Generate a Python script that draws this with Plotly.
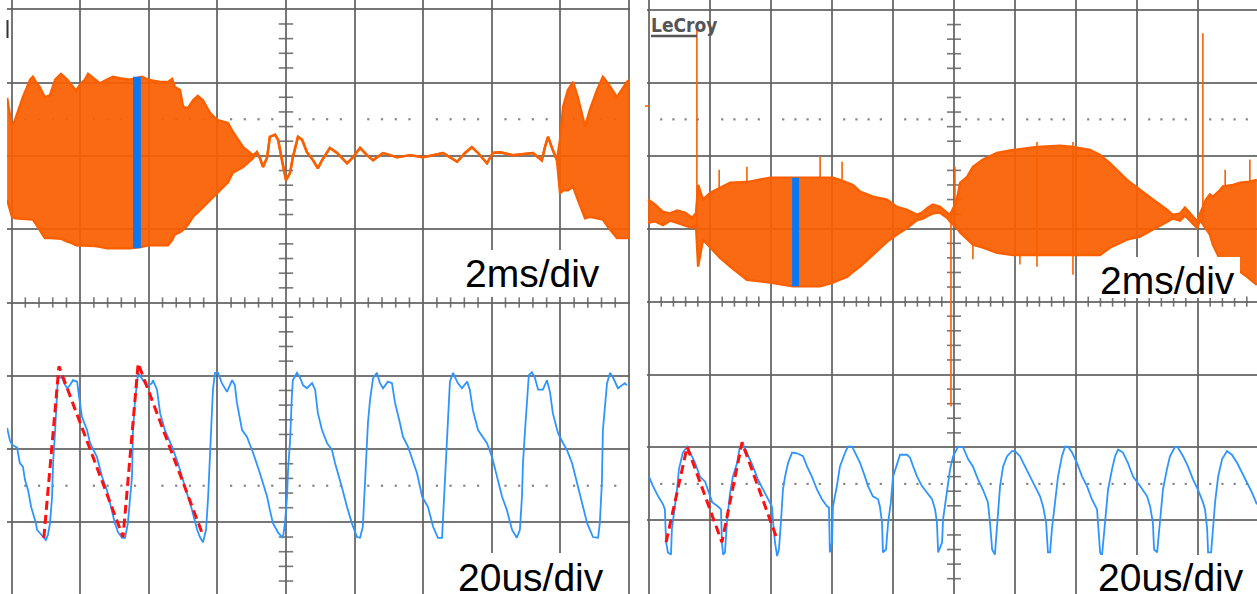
import plotly.graph_objects as go

# ---------------- LEFT SCREEN ----------------
# top trace (2 ms/div), amplitude in divisions: burst envelope, quiet part, second burst
lt_burst1_t = [-8.13,-7.99,-7.90,-7.67,-7.46,-7.38,-7.29,-7.17,-7.03,-6.88,-6.73,-6.56,-6.38,-6.24,-6.12,-6.01,
               -5.86,-5.77,-5.57,-5.42,-5.22,-5.04,-4.84,-4.55,-4.20,-4.02,-3.67,-3.44,-3.32,-3.24,-3.09,-3.00,
               -2.86,-2.71,-2.57,-2.42,-2.22,-2.01,-1.69,-1.55,-1.25,-0.96]
lt_burst1_hi = [2.79,2.40,2.49,2.80,3.04,3.08,3.01,2.93,2.80,2.83,3.04,3.12,3.04,2.95,2.89,2.97,
                3.04,3.12,3.04,2.99,3.04,3.08,3.06,3.04,3.08,3.04,3.01,3.01,3.05,2.94,2.90,2.67,
                2.65,2.76,2.82,2.76,2.59,2.49,2.45,2.33,2.12,2.01]
lt_burst1_lo = [1.40,1.17,1.15,1.14,1.13,1.13,1.07,0.99,0.88,0.88,0.88,0.87,0.83,0.81,0.78,0.78,
                0.78,0.78,0.77,0.76,0.74,0.74,0.74,0.74,0.76,0.78,0.78,0.78,0.85,0.93,0.96,0.99,
                1.06,1.17,1.23,1.30,1.40,1.49,1.64,1.77,1.85,1.97]
lt_quiet_t = [-0.85,-0.76,-0.67,-0.55,-0.47,-0.32,-0.23,-0.12,0.00,0.12,0.20,0.35,0.47,0.61,0.79,0.93,
              1.05,1.28,1.49,1.78,1.95,2.16,2.36,2.54,2.83,3.24,3.62,3.99,4.58,4.99,5.22,5.42,
              5.60,5.86,6.03,6.24,6.62,7.20,7.46,7.55,7.64,7.78,7.90]
lt_quiet_v = [2.05,1.97,1.85,1.98,2.26,2.29,2.22,1.94,1.67,1.77,1.98,2.26,2.22,2.05,1.94,1.83,
              1.94,2.11,2.04,1.90,1.98,2.11,2.01,1.94,2.04,1.98,2.01,1.98,2.04,1.92,2.04,2.12,
              2.04,1.90,2.04,2.05,2.01,2.04,1.94,2.12,2.26,2.08,1.94]
lt_burst2_t = [7.99,8.08,8.22,8.37,8.51,8.72,8.86,9.07,9.24,9.39,9.65,9.94,10.03]
lt_burst2_hi = [2.22,2.67,2.90,3.01,2.80,2.40,2.63,2.90,3.08,2.99,2.80,3.01,3.04]
lt_burst2_lo = [1.49,1.53,1.53,1.58,1.40,1.15,1.17,1.15,1.13,1.03,0.88,0.88,0.88]
lt_zoom_mark_t = [-4.46, -4.23]
lt_zoom_mark_v = [0.74, 3.08]

# bottom trace (20 us/div)
lb_t = [-81.3,-80.5,-79.9,-78.4,-77.6,-76.7,-76.1,-75.2,-74.3,-73.8,-72.9,-72.6,-70.8,-70.0,-69.4,-68.8,
        -68.2,-67.9,-67.3,-66.8,-66.5,-65.3,-64.7,-63.8,-63.0,-62.1,-60.9,-60.3,-59.5,-58.0,-57.1,-55.1,
        -53.6,-52.2,-50.7,-49.9,-49.0,-47.8,-46.9,-46.1,-44.9,-44.6,-44.0,-43.4,-43.1,-41.7,-40.5,-39.1,
        -38.8,-37.6,-36.7,-35.3,-33.2,-31.5,-30.0,-28.9,-27.4,-25.9,-25.1,-24.2,-23.3,-22.7,-22.2,-21.6,
        -21.3,-20.7,-19.8,-18.7,-17.2,-15.7,-14.9,-14.3,-12.8,-11.4,-9.6,-7.6,-5.5,-4.7,-3.8,-2.3,
        -0.9,-0.3,0.3,0.6,1.2,1.7,2.0,3.2,4.1,5.0,6.1,7.6,8.5,9.3,10.5,12.0,
        13.4,14.3,15.2,16.3,17.8,19.2,20.7,21.6,22.4,23.6,23.9,24.5,25.4,26.5,27.4,28.3,
        29.7,30.9,31.8,33.2,34.1,35.6,37.0,38.2,39.7,41.4,42.9,44.3,45.5,45.8,46.4,46.9,
        47.8,48.7,50.1,51.3,52.8,53.6,54.5,56.0,58.6,60.1,61.5,63.0,64.4,65.9,67.3,68.2,
        68.8,69.1,69.7,70.3,70.8,71.7,72.6,73.5,74.9,76.1,77.0,77.8,79.3,80.8,81.9,83.4,
        84.8,86.3,87.8,89.5,91.0,91.5,92.1,92.4,93.0,93.6,94.5,95.3,96.8,98.0,98.8,99.4]
lb_v = [-1.71,-1.88,-1.94,-1.98,-2.19,-2.24,-2.42,-2.56,-2.79,-2.87,-3.01,-3.10,-3.20,-3.24,-3.17,-3.01,
        -2.65,-2.19,-1.74,-1.33,-1.03,-1.02,-1.10,-1.17,-1.13,-1.06,-1.08,-1.29,-1.56,-1.74,-1.92,-2.11,
        -2.38,-2.56,-2.83,-3.01,-3.13,-3.21,-3.21,-3.01,-2.38,-1.74,-1.33,-1.03,-0.96,-1.06,-1.15,-1.10,
        -1.06,-1.19,-1.51,-1.74,-1.97,-2.19,-2.42,-2.60,-2.83,-3.10,-3.20,-3.27,-3.10,-2.65,-2.11,-1.47,
        -1.19,-0.96,-0.96,-1.10,-1.22,-1.06,-1.13,-1.37,-1.74,-1.83,-2.05,-2.33,-2.65,-2.83,-3.01,-3.14,
        -3.21,-3.01,-2.65,-2.29,-1.88,-1.29,-1.06,-0.96,-1.03,-1.13,-1.17,-1.10,-1.19,-1.51,-1.74,-1.92,
        -2.01,-2.19,-2.33,-2.52,-2.79,-3.01,-3.20,-3.21,-3.06,-2.01,-1.64,-1.33,-1.03,-0.96,-1.10,-1.17,
        -1.08,-1.10,-1.37,-1.64,-1.83,-1.97,-2.15,-2.33,-2.65,-2.79,-3.06,-3.21,-3.21,-2.93,-2.19,-1.74,
        -1.08,-0.96,-1.10,-1.17,-1.08,-1.19,-1.47,-1.74,-1.92,-2.11,-2.38,-2.65,-2.83,-3.10,-3.21,-3.10,
        -2.65,-2.19,-1.74,-1.29,-0.99,-0.95,-1.03,-1.19,-1.19,-1.06,-1.23,-1.51,-1.78,-1.92,-2.01,-2.19,
        -2.45,-2.74,-3.01,-3.20,-3.21,-3.01,-2.46,-1.74,-1.37,-1.10,-0.96,-1.02,-1.17,-1.13,-1.10,-1.13]
lb_fit_t = [-70.6, -66.2, -47.5, -43.1, -24.5]
lb_fit_v = [-3.21, -0.87, -3.20, -0.83, -3.14]

# ---------------- RIGHT SCREEN ----------------
rt_t = [-10.03,-9.80,-9.54,-9.31,-9.08,-8.82,-8.59,-8.46,-8.39,-8.23,-8.00,-7.67,-7.34,-6.79,-6.03,-5.28,
        -4.39,-3.97,-3.74,-3.51,-3.31,-3.08,-2.66,-2.20,-1.87,-1.54,-1.21,-1.02,-0.85,-0.69,-0.46,-0.23,
        -0.13,0.03,0.13,0.20,0.43,0.62,0.95,1.41,1.93,2.72,3.48,3.90,4.46,4.79,5.11,5.67,
        6.10,6.52,6.98,7.18,7.41,7.57,7.74,7.97,8.07,8.26,8.39,8.49,8.72,8.82,9.15,9.38,
        9.61,9.93]
rt_hi = [1.40,1.33,1.23,1.21,1.25,1.22,1.15,1.21,1.60,1.40,1.49,1.56,1.63,1.64,1.70,1.70,
         1.70,1.70,1.67,1.63,1.60,1.51,1.44,1.40,1.30,1.26,1.19,1.23,1.29,1.33,1.30,1.22,
         1.19,1.33,1.47,1.63,1.71,1.85,1.95,2.04,2.08,2.12,2.14,2.12,2.08,2.01,1.90,1.67,
         1.53,1.40,1.26,1.19,1.21,1.29,1.21,1.10,1.21,1.40,1.47,1.44,1.53,1.58,1.60,1.63,
         1.64,1.67]
rt_lo = [1.08,1.10,1.05,1.11,1.08,1.04,1.01,1.05,0.48,0.85,0.75,0.60,0.48,0.30,0.26,0.21,
         0.21,0.26,0.30,0.34,0.41,0.48,0.64,0.82,0.92,1.01,1.12,1.14,1.18,1.21,1.22,1.15,
         1.10,1.04,0.99,0.95,0.85,0.78,0.74,0.67,0.64,0.64,0.64,0.64,0.64,0.64,0.74,0.85,
         0.89,0.99,1.10,1.14,1.11,1.18,1.11,1.01,1.12,0.99,0.92,0.78,0.58,0.55,0.48,0.41,
         0.34,0.23]
rt_spike_t = [-8.43,-7.70,-6.79,-4.39,-3.67,-0.10,0.03,0.62,2.16,2.72,3.90,8.16,8.89,9.70]
rt_spike_lo = [0.85,1.53,1.64,1.70,1.67,-1.44,1.04,0.58,0.51,0.48,0.37,1.12,1.58,1.63]
rt_spike_hi = [3.78,1.81,1.85,1.99,1.92,1.22,1.85,0.78,0.64,2.19,2.19,3.68,1.81,1.95]
rt_zoom_mark_t = [-5.31, -5.08]
rt_zoom_mark_v = [0.21, 1.70]

rb_t = [-100.0,-98.7,-97.0,-95.4,-94.8,-94.4,-93.8,-92.8,-92.5,-91.5,-90.8,-90.2,-88.9,-87.5,-86.6,-84.9,
        -83.3,-81.6,-80.7,-79.3,-77.4,-76.4,-76.1,-75.7,-75.1,-74.4,-73.4,-72.5,-71.1,-70.2,-69.2,-67.9,
        -65.9,-64.3,-62.6,-61.0,-59.7,-59.3,-58.7,-58.0,-57.4,-56.7,-56.1,-55.4,-54.4,-53.1,-51.5,-49.5,
        -48.2,-46.6,-44.9,-43.3,-41.6,-41.0,-40.7,-40.0,-39.7,-38.4,-37.4,-35.7,-34.8,-33.4,-32.5,-30.8,
        -29.2,-28.2,-26.6,-24.9,-24.3,-23.6,-23.3,-22.3,-21.6,-20.7,-20.0,-18.7,-17.7,-15.4,-14.4,-13.4,
        -12.1,-10.5,-8.9,-7.2,-6.2,-5.6,-5.2,-3.9,-3.6,-2.3,-1.3,-0.3,1.3,3.0,4.6,6.2,
        7.9,9.5,10.8,11.1,11.8,12.5,13.4,14.1,14.4,15.1,16.1,17.4,19.0,20.0,21.6,23.3,
        24.9,26.6,28.2,29.2,30.2,30.8,31.5,32.1,33.1,34.1,35.4,36.4,37.4,38.7,40.3,42.0,
        43.6,45.2,46.9,47.2,47.9,48.5,48.9,49.5,50.5,51.8,52.8,53.8,55.4,57.0,58.7,61.0,
        63.3,64.3,65.2,65.6,66.6,66.9,67.5,68.5,69.8,70.8,72.5,73.4,75.1,76.7,78.4,80.0,
        81.6,82.3,83.0,83.3,84.3,84.9,85.6,86.6,87.9,89.5,91.1,92.8,94.4,96.1,97.7,99.3]
rb_v = [-2.40,-2.53,-2.67,-2.78,-2.85,-3.30,-3.44,-3.47,-3.12,-2.81,-2.58,-2.30,-2.07,-1.99,-2.07,-2.21,
        -2.40,-2.47,-2.58,-2.75,-2.81,-2.85,-3.30,-3.47,-3.44,-2.99,-2.62,-2.40,-2.21,-1.99,-1.95,-2.07,
        -2.26,-2.44,-2.58,-2.71,-2.81,-3.03,-3.30,-3.49,-3.40,-2.99,-2.58,-2.40,-2.21,-2.07,-2.08,-2.12,
        -2.26,-2.40,-2.58,-2.71,-2.81,-2.82,-3.44,-3.30,-2.81,-2.53,-2.26,-2.07,-1.99,-1.99,-2.07,-2.21,
        -2.40,-2.53,-2.67,-2.71,-2.81,-3.03,-3.44,-3.40,-3.03,-2.75,-2.40,-2.21,-2.10,-2.10,-2.14,-2.26,
        -2.40,-2.53,-2.62,-2.71,-2.85,-3.03,-3.44,-3.30,-2.99,-2.62,-2.30,-2.12,-1.99,-2.00,-2.16,-2.26,
        -2.44,-2.58,-2.74,-2.75,-3.03,-3.40,-3.47,-3.12,-2.85,-2.53,-2.26,-2.12,-2.05,-2.05,-2.12,-2.26,
        -2.40,-2.53,-2.67,-2.81,-3.03,-3.44,-3.44,-3.12,-2.75,-2.40,-2.12,-1.99,-1.99,-2.07,-2.21,-2.40,
        -2.53,-2.71,-2.85,-3.03,-3.44,-3.49,-3.30,-2.95,-2.58,-2.30,-2.12,-2.03,-2.07,-2.21,-2.40,-2.53,
        -2.67,-2.81,-3.03,-3.40,-3.44,-3.30,-2.99,-2.58,-2.30,-2.12,-1.99,-2.00,-2.12,-2.26,-2.44,-2.58,
        -2.75,-2.85,-3.12,-3.44,-3.44,-3.12,-2.75,-2.40,-2.16,-2.05,-2.10,-2.21,-2.34,-2.48,-2.62,-2.78]
rb_fit_t = [-94.4, -87.5, -76.1, -69.5, -58.0]
rb_fit_v = [-3.30, -1.99, -3.30, -1.93, -3.26]

labels = ["2ms/div", "20us/div", "2ms/div", "20us/div"]

ORANGE = "#fa5f00"
ORANGE_FILL = "rgba(250,95,0,0.93)"
BLUE = "#2e95ff"
MARK = "rgba(0,120,255,0.95)"
GRID = "rgba(95,95,95,0.85)"

fig = go.Figure()


def envelope(t, hi, lo, xa, ya):
    fig.add_trace(go.Scatter(x=t, y=hi, xaxis=xa, yaxis=ya, mode="lines",
                             line=dict(color=ORANGE, width=2.4), hoverinfo="skip"))
    fig.add_trace(go.Scatter(x=t, y=lo, xaxis=xa, yaxis=ya, mode="lines", fill="tonexty",
                             fillcolor=ORANGE_FILL, line=dict(color=ORANGE, width=2.4), hoverinfo="skip"))


def bar(t, v, xa, ya):
    fig.add_trace(go.Scatter(x=[t[0], t[1], t[1], t[0], t[0]], y=[v[0], v[0], v[1], v[1], v[0]],
                             xaxis=xa, yaxis=ya, mode="lines", fill="toself", fillcolor=MARK,
                             line=dict(width=0), hoverinfo="skip"))


def axis_decor(xa, ya, t_lo, t_hi, y_lo, y_hi, x_half, y_half, t_step):
    # minor ticks along the centre cross and dotted reference lines
    xs, ys = [], []
    k = -25
    while k <= 25:
        yv = k * 0.2
        if k % 5 != 0 and y_lo < yv < y_hi:
            xs += [-x_half, x_half, None]
            ys += [yv, yv, None]
        k += 1
    k = -30
    dots_x = []
    while k <= 30:
        tv = k * t_step
        if k % 5 != 0 and t_lo < tv < t_hi:
            xs += [tv, tv, None]
            ys += [-y_half, y_half, None]
            dots_x.append(tv)
        k += 1
    fig.add_trace(go.Scatter(x=xs, y=ys, xaxis=xa, yaxis=ya, mode="lines",
                             line=dict(color=GRID, width=1.6), hoverinfo="skip"))
    for lvl in (2.5, -2.5):
        fig.add_trace(go.Scatter(x=dots_x, y=[lvl] * len(dots_x), xaxis=xa, yaxis=ya, mode="markers",
                                 marker=dict(color="rgba(120,120,120,0.9)", size=2.2, symbol="square"),
                                 hoverinfo="skip"))


# left screen
axis_decor("x", "y", -8.134, 10.03, -3.977, 4.127, 0.21, 0.07, 0.4)
envelope(lt_burst1_t + lt_quiet_t + lt_burst2_t,
         lt_burst1_hi + lt_quiet_v + lt_burst2_hi,
         lt_burst1_lo + lt_quiet_v + lt_burst2_lo, "x", "y")
bar(lt_zoom_mark_t, lt_zoom_mark_v, "x", "y")
fig.add_trace(go.Scatter(x=lb_t, y=lb_v, xaxis="x3", yaxis="y", mode="lines",
                         line=dict(color=BLUE, width=1.8), hoverinfo="skip"))
fig.add_trace(go.Scatter(x=lb_fit_t, y=lb_fit_v, xaxis="x3", yaxis="y", mode="lines",
                         line=dict(color="#ff1010", width=3, dash="9px,5px"), hoverinfo="skip"))

# right screen
axis_decor("x2", "y2", -10.066, 9.934, -4.01, 4.137, 0.23, 0.07, 0.4)
envelope(rt_t, rt_hi, rt_lo, "x2", "y2")
sx, sy = [], []
for t, a, b in zip(rt_spike_t, rt_spike_lo, rt_spike_hi):
    sx += [t, t, None]
    sy += [a, b, None]
fig.add_trace(go.Scatter(x=sx, y=sy, xaxis="x2", yaxis="y2", mode="lines",
                         line=dict(color=ORANGE, width=1.6), hoverinfo="skip"))
bar(rt_zoom_mark_t, rt_zoom_mark_v, "x2", "y2")
fig.add_trace(go.Scatter(x=rb_t, y=rb_v, xaxis="x4", yaxis="y2", mode="lines",
                         line=dict(color=BLUE, width=1.8), hoverinfo="skip"))
fig.add_trace(go.Scatter(x=rb_fit_t, y=rb_fit_v, xaxis="x4", yaxis="y2", mode="lines",
                         line=dict(color="#ff1010", width=3, dash="9px,5px"), hoverinfo="skip"))

W, H = 1257, 594
grid_axis = dict(showgrid=True, gridcolor=GRID, gridwidth=2, zeroline=False, showline=False,
                 showticklabels=False, ticks="", fixedrange=True)

fig.update_layout(
    width=W, height=H, margin=dict(l=0, r=0, t=0, b=0),
    paper_bgcolor="white", plot_bgcolor="white", showlegend=False,
    xaxis=dict(domain=[7 / W, 630 / W], range=[-8.134, 10.03], dtick=2, tick0=0, anchor="y", **grid_axis),
    yaxis=dict(domain=[0, 1], range=[-3.977, 4.127], dtick=1, tick0=0, anchor="x", **grid_axis),
    xaxis2=dict(domain=[647 / W, 1], range=[-10.066, 9.934], dtick=2, tick0=0, anchor="y2", **grid_axis),
    yaxis2=dict(domain=[0, 1], range=[-4.01, 4.137], dtick=1, tick0=0, anchor="x2", **grid_axis),
    xaxis3=dict(overlaying="x", range=[-81.34, 100.3], visible=False, anchor="y", fixedrange=True),
    xaxis4=dict(overlaying="x2", range=[-100.66, 99.34], visible=False, anchor="y2", fixedrange=True),
)

# white label boxes (paper pixels: x0, x1, y0, y1) and label text anchors
boxes = [(459, 612, 250, 297), (453, 612, 553, 594), (1094, 1240, 257, 298), (1093, 1252, 555, 594)]
for x0, x1, y0, y1 in boxes:
    fig.add_shape(type="rect", xref="paper", yref="paper", x0=x0 / W, x1=x1 / W,
                  y0=1 - y1 / H, y1=1 - y0 / H, fillcolor="white", line=dict(width=0), layer="above")

font = dict(family="Liberation Sans, Arial, sans-serif", size=39, color="black")
pos = [(464, 251), (457, 555), (1099, 258), (1097, 555)]
for lab, (px, py) in zip(labels, pos):
    fig.add_annotation(text=lab, xref="paper", yref="paper", x=px / W, y=1 - py / H,
                       xanchor="left", yanchor="top", showarrow=False, font=font, borderpad=0)

fig.add_annotation(text="<b>LeCroy</b>", xref="paper", yref="paper", x=649 / W, y=1 - 12 / H,
                   xanchor="left", yanchor="top", showarrow=False,
                   font=dict(family="DejaVu Sans Condensed, Liberation Sans, sans-serif", size=19, color="#555555"))
fig.add_shape(type="line", xref="paper", yref="paper", x0=651 / W, x1=697 / W, y0=1 - 36 / H, y1=1 - 36 / H,
              line=dict(color="#555555", width=2.5))
fig.add_shape(type="line", xref="paper", yref="paper", x0=645 / W, x1=650 / W, y0=1 - 106 / H, y1=1 - 106 / H,
              line=dict(color=ORANGE, width=1.5))
fig.add_shape(type="line", xref="paper", yref="paper", x0=7.5 / W, x1=7.5 / W, y0=1 - 20 / H, y1=1 - 38 / H,
              line=dict(color="#333333", width=2))

fig.write_html("out.html", config={"displayModeBar": False, "staticPlot": True},
               post_script="document.body.style.margin='0';document.body.style.padding='0';"
                           "document.body.style.overflow='hidden';")
